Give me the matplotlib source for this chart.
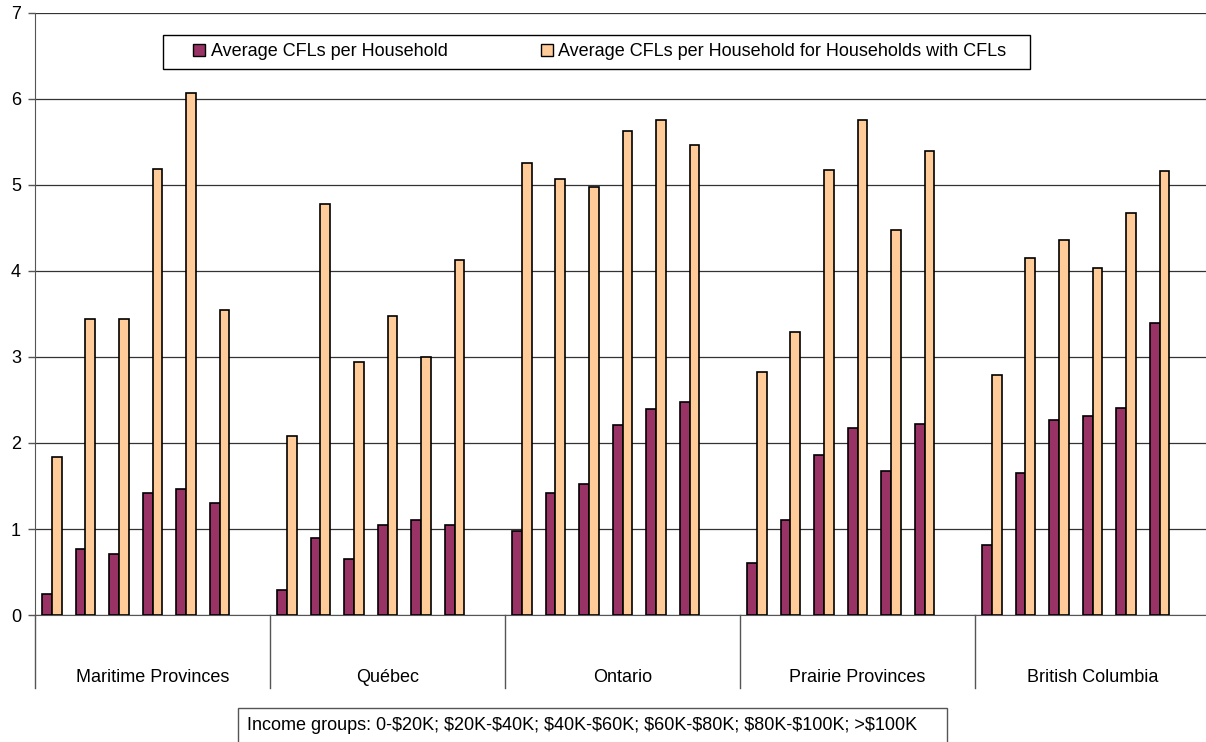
import matplotlib.pyplot as plt
from matplotlib.patches import Rectangle, Patch

plt.rcParams['font.family'] = ['Liberation Sans', 'DejaVu Sans']

provinces = ["Maritime Provinces", "Québec", "Ontario", "Prairie Provinces", "British Columbia"]
income_groups = ["0-$20K", "$20K-$40K", "$40K-$60K", "$60K-$80K", "$80K-$100K", ">$100K"]

# average CFLs per household, one row per province, one value per income group
avg_all = [
    [0.25, 0.77, 0.71, 1.42, 1.46, 1.30],
    [0.29, 0.90, 0.65, 1.05, 1.10, 1.05],
    [0.98, 1.42, 1.52, 2.21, 2.40, 2.48],
    [0.61, 1.10, 1.86, 2.17, 1.67, 2.22],
    [0.81, 1.65, 2.27, 2.31, 2.41, 3.39],
]
# same, counting only households that have CFLs
avg_with = [
    [1.84, 3.44, 3.44, 5.19, 6.07, 3.55],
    [2.08, 4.78, 2.94, 3.48, 3.00, 4.13],
    [5.26, 5.07, 4.98, 5.63, 5.75, 5.47],
    [2.83, 3.29, 5.17, 5.76, 4.48, 5.39],
    [2.79, 4.15, 4.36, 4.04, 4.67, 5.16],
]

W, H = 1206, 742
fig = plt.figure(figsize=(W / 100, H / 100), dpi=100)
ax = fig.add_axes([35 / W, 1 - 615 / H, 1175 / W, 602 / H])

purple = '#993366'
peach = '#FFCC99'
slots = len(income_groups) + 1   # one empty slot after each province
bw = 0.29

for p in range(len(provinces)):
    for g in range(len(income_groups)):
        c = p * slots + g + 0.5
        ax.bar(c - bw / 2, avg_all[p][g], width=bw, color=purple,
               edgecolor='black', linewidth=1.2, zorder=3)
        ax.bar(c + bw / 2, avg_with[p][g], width=bw, color=peach,
               edgecolor='black', linewidth=1.2, zorder=3)

ax.set_xlim(0, slots * len(provinces))
ax.set_ylim(0, 7)
ax.set_yticks(range(8))
ax.set_xticks([])
ax.tick_params(axis='y', labelsize=13, length=5, width=1, color='#555555', pad=5)
ax.yaxis.grid(True, color='#333333', linewidth=0.9)
ax.set_axisbelow(True)
for s in ['top', 'right']:
    ax.spines[s].set_visible(False)
ax.spines['left'].set_color('#555555')
ax.spines['bottom'].set_color('#555555')

# category tier under the axis: separators and province names
tier = ax.get_xaxis_transform()
for p in range(len(provinces)):
    x0 = p * slots
    ax.plot([x0, x0], [0, -73 / 602], transform=tier, color='#555555',
            linewidth=1, clip_on=False)
    ax.text(x0 + slots / 2, -62 / 602, provinces[p], transform=tier,
            ha='center', va='center', fontsize=13)

# legend with a plain rectangular frame
handles = [Patch(facecolor=purple, edgecolor='black', linewidth=1),
           Patch(facecolor=peach, edgecolor='black', linewidth=1)]
labels = ["Average CFLs per Household",
          "Average CFLs per Household for Households with CFLs"]
fig.legend(handles, labels, loc='center', bbox_to_anchor=(600 / W, 1 - 52 / H),
           ncol=2, frameon=False, fontsize=13, handlelength=0.65, handleheight=0.65,
           handletextpad=0.3, columnspacing=5.2)
fig.add_artist(Rectangle((163 / W, 1 - 69 / H), 867 / W, 34 / H,
                         transform=fig.transFigure, fill=False,
                         edgecolor='black', linewidth=1))

# note on income groups
fig.add_artist(Rectangle((238 / W, 1 - 745 / H), 709 / W, 37 / H,
                         transform=fig.transFigure, facecolor='white',
                         edgecolor='#555555', linewidth=1, clip_on=False))
fig.text(247 / W, 1 - 725 / H, "Income groups: " + "; ".join(income_groups),
         ha='left', va='center', fontsize=13, parse_math=False)

fig.savefig('out.png', dpi=100)
